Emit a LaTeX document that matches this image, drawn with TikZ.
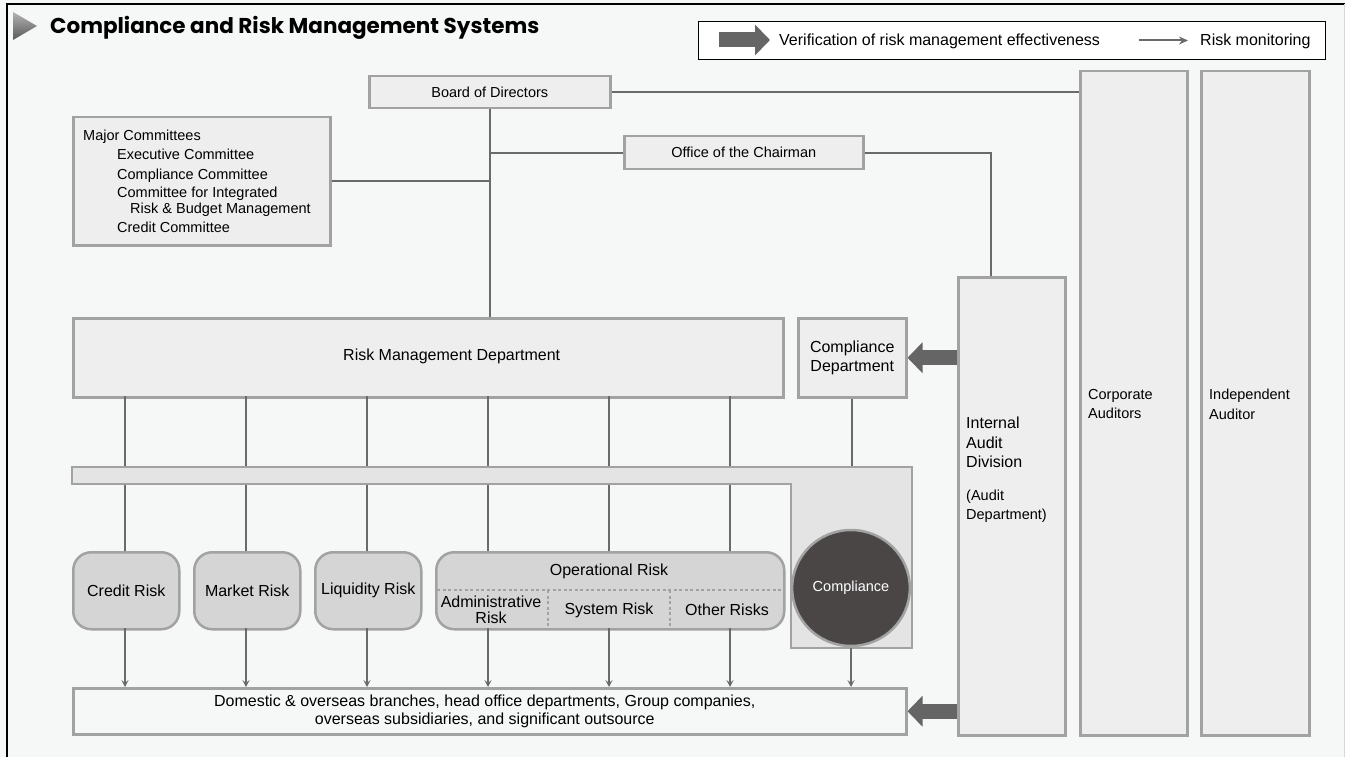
\documentclass[tikz,border=0pt]{standalone}
\usepackage{fontspec}
\setmainfont{Liberation Sans}
\newfontfamily\headfont{Poppins}
\usetikzlibrary{arrows.meta,shapes.geometric,calc}
\definecolor{bg}{HTML}{F6F7F7}
\definecolor{boxfill}{HTML}{EEEEEE}
\definecolor{boxline}{HTML}{A2A2A2}
\definecolor{wire}{HTML}{6A6A6A}
\definecolor{riskfill}{HTML}{D5D5D5}
\definecolor{bandfill}{HTML}{E4E4E4}
\definecolor{fatgrey}{HTML}{656565}
\definecolor{darkdisc}{HTML}{4A4646}
\begin{document}
\begin{tikzpicture}[x=1pt,y=-1pt,
  font=\fontsize{14.5}{17}\selectfont,
  big/.style={font=\fontsize{16}{19.5}\selectfont},
  panel/.style={draw=boxline, fill=boxfill, line width=2.5pt, anchor=north west, inner sep=0pt, align=center},
  riskbox/.style={draw=boxline, fill=riskfill, line width=2.5pt, rounded corners=18pt, anchor=north west, inner sep=0pt, minimum height=77pt, align=center, big},
  wireline/.style={draw=wire, line width=2.2pt},
  monitor/.style={wireline, -{Stealth[length=7pt,width=7pt,inset=3pt]}},
  fatarrow/.style={draw=fatgrey, line width=15pt, -{Triangle[length=15pt,width=30pt]}},
  sepline/.style={draw=boxline, line width=1.6pt, dash pattern=on 3pt off 2.5pt},
  txt/.style={anchor=base west, inner sep=0pt}
]
\useasboundingbox (0,0) rectangle (1345,757);
\fill[bg] (0,0) rectangle (1345,757);
% outer frame
\draw[black, line width=1.2pt] (7,757) -- (7,4) -- (1345,4);
\draw[black!15, line width=1pt] (1344.5,4) -- (1344.5,757);

% heading
\shade[top color=black!30, bottom color=black!65] (13,12) -- (37,26) -- (13,40) -- cycle;
\node[txt, font=\headfont\bfseries\fontsize{21.5}{24}\selectfont] (title) at (50,34) {Compliance and Risk Management Systems};

% legend
\node[draw=black, fill=white, line width=1pt, anchor=north west, minimum width=627pt, minimum height=38pt, inner sep=0pt] (legend) at (698,21) {};
\coordinate (lfatA) at (719,40);
\coordinate (lfatB) at (770,40);
\draw[fatarrow] (lfatA) -- (lfatB);
\node[txt, big] (lfattxt) at (779,46) {Verification of risk management effectiveness};
\coordinate (lthinA) at (1139,40.5);
\coordinate (lthinB) at (1188,40.5);
\draw[draw=wire, line width=2pt, -{Stealth[length=9pt,width=8pt]}] (lthinA) -- (lthinB);
\node[txt, big] (lthintxt) at (1200,46) {Risk monitoring};

% panels
\node[panel, minimum width=241pt, minimum height=32pt] (board) at (368,75) {Board of Directors};
\node[panel, minimum width=257pt, minimum height=128pt] (mc) at (72,116) {};
\node[panel, minimum width=239pt, minimum height=33pt] (office) at (623,135) {Office of the Chairman};
\node[panel, minimum width=710pt, minimum height=79pt] (rm) at (72,317) {};
\node[big, anchor=west, inner sep=0pt] (rmtxt) at (343,356.5) {Risk Management Department};
\node[panel, minimum width=108pt, minimum height=79pt, big] (cd) at (797,317) {Compliance\\Department};
\node[panel, minimum width=107pt, minimum height=458pt] (ia) at (957,276) {};
\node[panel, minimum width=107pt, minimum height=664pt] (ca) at (1079,70) {};
\node[panel, minimum width=108pt, minimum height=664pt] (indep) at (1200,70) {};

% committee list
\node[txt] (mc1) at (83,141) {Major Committees};
\node[txt] (mc2) at (117,160) {Executive Committee};
\node[txt] (mc3) at (117,179) {Compliance Committee};
\node[txt] (mc4) at (117,197) {Committee for Integrated};
\node[txt] (mc5) at (130,214) {Risk \& Budget Management};
\node[txt] (mc6) at (117,233) {Credit Committee};

% audit columns
\node[txt, align=left, big, anchor=north west] (iatxt) at (966,417) {Internal\\Audit\\Division};
\node[txt, align=left, font=\fontsize{14.5}{19}\selectfont, anchor=north west] (iadept) at (966,490) {(Audit\\Department)};
\node[txt, align=left, font=\fontsize{14.5}{19.5}\selectfont, anchor=north west] (catxt) at (1088,389) {Corporate\\Auditors};
\node[txt, align=left, font=\fontsize{14.5}{19.5}\selectfont, anchor=north west] (indtxt) at (1209,389) {Independent\\Auditor};

% reporting lines
\draw[wireline] (board.east) -- (board.east -| ca.west);
\draw[wireline] (board.south) -- (board.south |- rm.north);
\draw[wireline] (mc.east) -- (mc.east -| board.south);
\draw[wireline] (office.west) -- (office.west -| board.south);
\coordinate (oturn) at ($(ia.north west)+(34,0)$);
\draw[wireline] (office.east) -| (oturn);

% risk categories
\node[riskbox, minimum width=106pt] (credit) at (72,551) {Credit Risk};
\node[riskbox, minimum width=106pt] (market) at (193,551) {Market Risk};
\node[riskbox, minimum width=106pt] (liquid) at (314,551) {Liquidity Risk};
\node[riskbox, minimum width=348pt] (oprisk) at (435,551) {};

% lines from the risk department down to the categories
\foreach \n/\x in {credit/125, market/246, liquid/367, opA/488, opB/609, opC/730}{
  \coordinate (top\n) at (\x,396);
  \coordinate (mid\n) at (\x,551);
  \coordinate (low\n) at (\x,628);
  \coordinate (end\n) at (\x,687);
  \draw[wireline] (top\n) -- (mid\n);
  \draw[monitor] (low\n) -- (end\n);
}
\coordinate (cdfoot) at (851,467);
\draw[wireline] (cd.south) -- (cd.south |- cdfoot);

% compliance band
\draw[draw=boxline, fill=bandfill, line width=2.5pt] (72,467) -- (912,467) -- (912,648) -- (791,648) -- (791,484) -- (72,484) -- cycle;
\node[ellipse, draw=boxline, fill=darkdisc, line width=2.5pt, minimum width=112pt, minimum height=116pt, text=white] (comp) at (851,588) {Compliance};
\coordinate (bandfoot) at (851,648);

% operational risk breakdown
\node[anchor=center, big] (optitle) at (609,571) {Operational Risk};
\draw[sepline] (437,590) -- (781,590);
\draw[sepline] (548,590) -- (548,627);
\draw[sepline] (670,590) -- (670,627);
\node[align=center, font=\fontsize{16}{15.5}\selectfont] (admin) at (491,610) {Administrative\\Risk};
\node[big] (sysrisk) at (609,610) {System Risk};
\node[big] (other) at (727,610) {Other Risks};

% business units
\node[panel, fill=bg, minimum width=833pt, minimum height=46pt] (bot) at (72,687) {};
\node[align=center, font=\fontsize{16}{18.5}\selectfont, inner sep=0pt] (bottxt) at ($(bot.center)+(-5,0)$) {Domestic \& overseas branches, head office departments, Group companies,\\overseas subsidiaries, and significant outsource};
\draw[monitor] (bandfoot) -- (bot.north -| bandfoot);

% audit verification arrows
\draw[fatarrow] (ia.west |- cd.east) -- (cd.east);
\draw[fatarrow] (ia.west |- bot.east) -- (bot.east);
\end{tikzpicture}
\end{document}
